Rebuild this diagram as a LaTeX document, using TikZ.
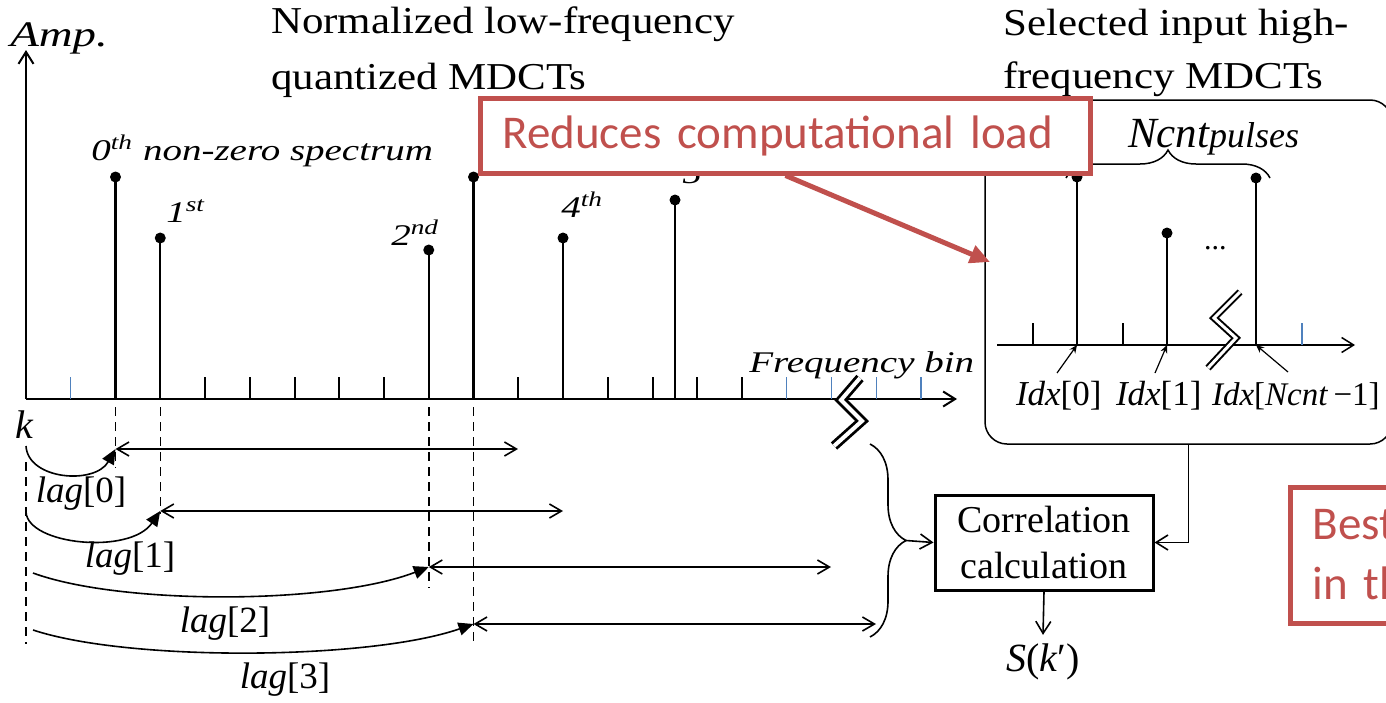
\documentclass[tikz,border=0pt]{standalone}
\usepackage{fontspec}
\setmainfont{Liberation Serif}
\newfontfamily\notefont{Carlito}
\usetikzlibrary{arrows.meta, positioning, calc, decorations.pathreplacing}
\definecolor{NoteRed}{HTML}{C0504D}
\definecolor{BinBlue}{HTML}{4F81BD}

\begin{document}
\begin{tikzpicture}[
  x=0.5pt, y=-0.5pt,
  line width=1pt,
  opn/.style={-{Straight Barb[length=6pt, width=7.5pt]}},
  win/.style={line width=0.8pt, {Straight Barb[length=6pt, width=7pt]}-{Straight Barb[length=6pt, width=7pt]}},
  ttl/.style={inner sep=0pt, anchor=base west, xscale=1.13, font=\fontsize{19}{23}\selectfont},
  lbl/.style={inner sep=0pt, anchor=base west, xscale=1.3, font=\fontsize{15}{18}\selectfont\itshape},
  mth/.style={inner sep=0pt, font=\fontsize{18.5}{22}\selectfont},
  stem/.style={line width=1.2pt},
  bin/.style={BinBlue, line width=0.7pt},
  dot/.style={circle, fill, inner sep=0pt, minimum size=5.5pt},
  guide/.style={line width=0.75pt, dash pattern=on 4.5pt off 3pt},
  lagarc/.style={line width=0.8pt, -{Triangle[length=7.5pt, width=6.5pt]}},
  brk/.style={double=white, double distance=2pt, line width=1.4pt},
  note/.style={draw=NoteRed, line width=2.5pt, fill=white, text=NoteRed,
    font=\notefont\fontsize{23.5}{30}\selectfont, align=left},
]
  \useasboundingbox (0,0) rectangle (1386,702);
  \clip (0,0) rectangle (1386,702);

  % titles
  \node[ttl] (lowT1) at (270,33) {Normalized low-frequency};
  \node[ttl] (lowT2) at (270,89) {quantized MDCTs};
  \node[ttl] (highT1) at (1002,35) {Selected input high-};
  \node[ttl] (highT2) at (1002,88) {frequency MDCTs};

  % low-frequency spectrum
  \coordinate (O) at (26,399);
  \draw[opn] (O) -- (957,399) coordinate (xEnd);
  \draw[opn] (O) -- (26,50) coordinate (yEnd);
  \node[lbl, font=\fontsize{18}{21}\selectfont\itshape] (amp) at (9,46) {Amp.};
  \foreach \n in {2,...,16}
    \draw (26+44.75*\n,399) -- ++(0,-22);
  \foreach \n in {1,17,18,19,20}
    \draw[bin] (26+44.75*\n,399) -- ++(0,-22);
  \foreach \i/\sx/\sy in {0/115.5/177, 1/160.25/238, 2/428.75/250, 3/473.5/177, 4/563/238, 5/675/200} {
    \coordinate (s\i) at (\sx,399);
    \node[dot] (p\i) at (\sx,\sy) {};
    \draw[stem] (s\i) -- (p\i.center);
  }
  \node[lbl] (n0) at (90,160) {0\textsuperscript{th} non-zero spectrum};
  \node[lbl] (n1) at (165,222) {1\textsuperscript{st}};
  \node[lbl] (n2) at (390,245) {2\textsuperscript{nd}};
  \node[lbl] (n4) at (560,217) {4\textsuperscript{th}};
  \node[lbl] (n5) at (681,183) {5};
  \node[lbl] (fbin) at (748,372) {Frequency bin};
  \draw[brk] (860,378) -- (841,400) -- (862,421) -- (834,446);

  % lags and windows
  \node[inner sep=0pt, anchor=base west, font=\fontsize{20}{24}\selectfont\itshape] (k) at (14,438) {k};
  \foreach \i/\wy/\ex in {0/449/518, 1/511/563, 2/567/831, 3/624/876} {
    \coordinate (w\i) at (s\i |- 0,\wy);
    \coordinate (e\i) at (\ex,\wy);
    \draw[win] (w\i) -- (e\i);
  }
  \draw[guide] ($(s0)+(0,8)$) -- ++(0,61);
  \draw[guide] ($(s1)+(0,8)$) -- ++(0,107);
  \draw[guide] ($(s2)+(0,8)$) -- ++(0,181);
  \draw[guide] ($(s3)+(0,8)$) -- ++(0,236);
  \draw[guide] (26,462) -- (26,644);
  \draw[lagarc] (26,446) .. controls (28,480) and (95,485) .. (w0);
  \draw[lagarc] (26,512) .. controls (28,545) and (130,555) .. (w1);
  \draw[lagarc] (33,573) .. controls (120,605) and (330,605) .. (w2);
  \draw[lagarc] (33,630) .. controls (130,662) and (370,660) .. (w3);
  \node[mth] (lag0) at (81,494) {\textit{lag}[0]};
  \node[mth] (lag1) at (130,559) {\textit{lag}[1]};
  \node[mth] (lag2) at (225,624) {\textit{lag}[2]};
  \node[mth] (lag3) at (285,680) {\textit{lag}[3]};

  % correlation
  \node[draw, line width=1.5pt, minimum width=109pt, minimum height=47.5pt, align=center,
    font=\fontsize{19}{23}\selectfont] (corr) at (1044,542.5) {Correlation\\calculation};
  \draw[decorate, decoration={brace, amplitude=18pt}, line width=0.8pt] (870,444) -- (870,637);
  \coordinate (braceTip) at (906,540.5);
  \draw[opn, line width=0.8pt] (braceTip) -- (corr.west);
  \node[mth, inner sep=4pt, font=\fontsize{20}{24}\selectfont] (sk) at (1043,662) {\textit{S}(\textit{k}′)};
  \draw[opn, line width=0.8pt] (corr.south) -- (sk.north);

  % high-frequency inset
  \node[draw, line width=0.75pt, rounded corners=11pt, minimum width=203.5pt, minimum height=172pt] (hfBox) at (1188.5,272) {};
  \draw[opn, line width=0.8pt] (hfBox.south) |- (corr.east);
  \begin{scope}[line width=0.75pt]
    \draw[opn] (997,345) -- (1355,345);
    \foreach \tx in {1033,1123}
      \draw (\tx,345) -- ++(0,-22);
    \draw[bin] (1302,345) -- ++(0,-22);
    \foreach \i/\sx/\sy in {0/1077/177, 1/1167/233, 2/1256/178} {
      \coordinate (h\i) at (\sx,345);
      \node[dot] (q\i) at (\sx,\sy) {};
      \draw (h\i) -- (q\i.center);
    }
    \draw[decorate, decoration={brace, amplitude=14pt}] (1066,178) -- (1270,178);
    \draw[brk, line width=1pt, double distance=1.5pt] (1240,292) -- (1214,318) -- (1236,338) -- (1208,368);
  \end{scope}
  \node[inner sep=0pt, anchor=base west] (pulses) at (1127,147)
    {{\fontsize{21.5}{24}\selectfont\itshape Ncnt}{\fontsize{18}{22}\selectfont\itshape pulses}};
  \node[inner sep=0pt, anchor=base west, font=\fontsize{15}{18}\selectfont] (dots) at (1203,249) {...};
  \node[mth, anchor=base west, font=\fontsize{17.5}{21}\selectfont] (idx0) at (1015,405) {\textit{Idx}[0]};
  \node[mth, anchor=base west, font=\fontsize{17.5}{21}\selectfont] (idx1) at (1115,405) {\textit{Idx}[1]};
  \node[mth, anchor=base west, font=\fontsize{16.5}{21}\selectfont] (idxN) at (1211,405) {\textit{Idx}[\textit{Ncnt}\,−1]};
  \coordinate (a0) at (1057,373);
  \coordinate (a1) at (1155,373);
  \coordinate (a2) at (1288,372);
  \draw[-{Stealth[length=4pt, width=3.5pt]}, line width=0.6pt] (a0) -- (h0);
  \draw[-{Stealth[length=4pt, width=3.5pt]}, line width=0.6pt] (a1) -- (h1);
  \draw[-{Stealth[length=4pt, width=3.5pt]}, line width=0.6pt] (a2) -- (h2);

  % callouts
  \node[note, text width=283pt, inner xsep=11pt, minimum height=37.5pt, anchor=west] (callLoad) at (478,135.5)
    {Reduces computational load};
  \coordinate (callTip) at (990,262);
  \draw[NoteRed, line width=2.5pt, -{Triangle[length=10pt, width=9pt]}] (callLoad.south) -- (callTip);
  \node[note, text width=55pt, inner xsep=11pt, minimum height=68pt, anchor=west] (callBest) at (1288,555)
    {Best\\in th};
\end{tikzpicture}
\end{document}
